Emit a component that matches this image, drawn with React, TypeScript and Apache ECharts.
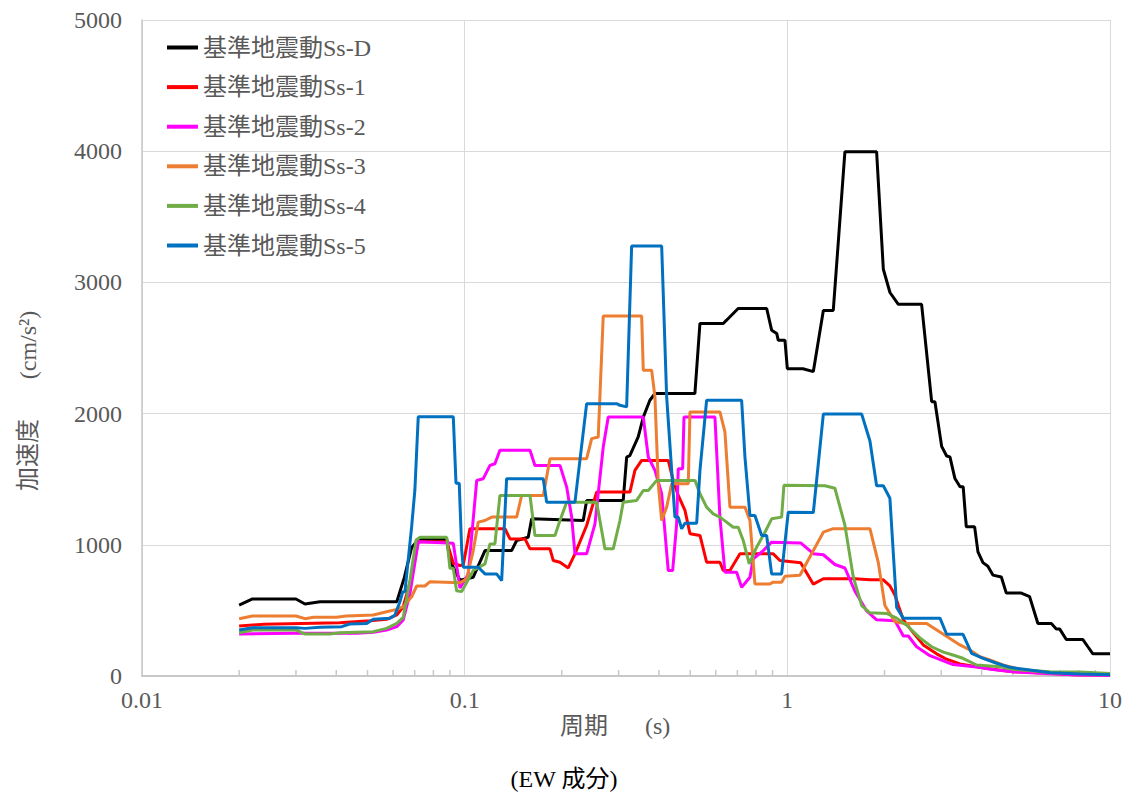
import React, { useEffect, useRef } from "react";
import * as echarts from "echarts";

const seriesNames = [
  "基準地震動Ss-D",
  "基準地震動Ss-1",
  "基準地震動Ss-2",
  "基準地震動Ss-3",
  "基準地震動Ss-4",
  "基準地震動Ss-5",
];
const seriesColors = ["#000000", "#FF0000", "#FF00FF", "#ED7D31", "#70AD47", "#0070C0"];

const yTicks = [0, 1000, 2000, 3000, 4000, 5000];
const minorTickPeriods = [
  0.02, 0.03, 0.04, 0.05, 0.06, 0.07, 0.08, 0.09,
  0.2, 0.3, 0.4, 0.5, 0.6, 0.7, 0.8, 0.9,
  2, 3, 4, 5, 6, 7, 8, 9,
];

// [period (s), acceleration (cm/s2)]
const ssD: [number, number][] = [
  [0.02, 540], [0.022, 587], [0.03, 587], [0.032, 549], [0.0356, 566], [0.0616, 566], [0.065, 750],
  [0.0685, 980], [0.072, 1040], [0.088, 1040], [0.09, 880], [0.0967, 730], [0.1063, 753], [0.1156, 956],
  [0.1398, 956], [0.1449, 1033], [0.1574, 1058], [0.1613, 1198], [0.2331, 1185], [0.2388, 1338],
  [0.31, 1338], [0.3177, 1669], [0.325, 1680], [0.345, 1822], [0.358, 1975], [0.375, 2102], [0.389, 2153],
  [0.517, 2153], [0.536, 2687], [0.633, 2687], [0.648, 2712], [0.704, 2801], [0.863, 2801], [0.894, 2636],
  [0.927, 2611], [0.937, 2560], [0.983, 2560], [1.0, 2342], [1.118, 2342], [1.204, 2320], [1.293, 2786],
  [1.388, 2786], [1.508, 3995], [1.891, 3995], [1.984, 3100], [2.08, 2923], [2.208, 2833], [2.607, 2833],
  [2.801, 2091], [2.867, 2091], [3.008, 1750], [3.117, 1677], [3.191, 1670], [3.307, 1505], [3.43, 1442],
  [3.508, 1442], [3.586, 1137], [3.806, 1137], [3.897, 946], [4.039, 864], [4.183, 837], [4.336, 769],
  [4.605, 755], [4.771, 632], [5.311, 632], [5.634, 605], [5.978, 400], [6.579, 400], [6.817, 359],
  [6.979, 359], [7.32, 278], [8.241, 278], [8.541, 223], [8.851, 169], [10, 169],
];

const ss1: [number, number][] = [
  [0.02, 381], [0.0238, 394], [0.041, 406], [0.0509, 422], [0.0573, 432], [0.0616, 465], [0.0645, 528],
  [0.0685, 757], [0.0718, 1024], [0.088, 1024], [0.0922, 859], [0.0967, 842], [0.099, 846], [0.1038, 1122],
  [0.1333, 1122], [0.1382, 1045], [0.1538, 1045], [0.1594, 969], [0.1838, 969], [0.1882, 880],
  [0.1974, 867], [0.2094, 824], [0.2197, 931], [0.2388, 1147], [0.2564, 1402], [0.3252, 1402],
  [0.337, 1567], [0.3536, 1643], [0.4275, 1643], [0.443, 1491], [0.4591, 1376], [0.4817, 1262],
  [0.4992, 1084], [0.5361, 1071], [0.5622, 867], [0.6181, 867], [0.6329, 804], [0.6639, 804],
  [0.713, 931], [0.9044, 931], [0.9486, 880], [1.1, 864], [1.204, 700], [1.293, 741], [1.62, 741],
  [1.803, 733], [1.984, 733], [2.079, 687], [2.155, 618], [2.208, 537], [2.288, 428], [2.428, 346],
  [2.638, 237], [2.902, 169], [3.117, 128], [3.427, 92], [3.86, 71], [4.339, 51], [5.0, 33], [6.5, 20],
  [7.674, 10], [10, 8],
];

const ss2: [number, number][] = [
  [0.02, 320], [0.0298, 325], [0.0463, 325], [0.0521, 333], [0.0573, 351], [0.0616, 376], [0.0645, 427],
  [0.0677, 630], [0.0718, 1024], [0.0922, 1011], [0.0967, 670], [0.1026, 778], [0.109, 1491],
  [0.1142, 1504], [0.1198, 1605], [0.1241, 1618], [0.1286, 1720], [0.1594, 1720], [0.1651, 1605],
  [0.1974, 1605], [0.2071, 1440], [0.2146, 1211], [0.2197, 931], [0.2388, 931], [0.2534, 1160],
  [0.2688, 1745], [0.2786, 1974], [0.3577, 1974], [0.3707, 1669], [0.3888, 1567], [0.4079, 1389],
  [0.4275, 804], [0.4412, 804], [0.4539, 1160], [0.4591, 1580], [0.4738, 1580], [0.4783, 1974],
  [0.5965, 1974], [0.6181, 1211], [0.6406, 791], [0.6964, 791], [0.7217, 676], [0.7658, 753],
  [0.784, 893], [0.842, 956], [0.8941, 1020], [1.1, 1014], [1.204, 932], [1.293, 924], [1.404, 850],
  [1.508, 823], [1.62, 646], [1.762, 496], [1.891, 428], [2.155, 422], [2.288, 305], [2.371, 305],
  [2.516, 223], [2.767, 155], [3.263, 87], [3.86, 68], [4.339, 50], [5.0, 32], [6.5, 18], [8, 8], [10, 5],
];

const ss3: [number, number][] = [
  [0.02, 437], [0.022, 457], [0.03, 457], [0.032, 437], [0.034, 447], [0.04, 447], [0.043, 457],
  [0.0521, 465], [0.0573, 490], [0.0616, 508], [0.0645, 528], [0.0685, 604], [0.071, 686], [0.0753, 686],
  [0.0781, 719], [0.0967, 710], [0.1014, 740], [0.1063, 956], [0.1102, 1173], [0.1156, 1185],
  [0.1213, 1211], [0.1449, 1211], [0.1502, 1376], [0.1752, 1376], [0.1838, 1656], [0.2388, 1656],
  [0.2475, 1809], [0.2594, 1822], [0.2688, 2743], [0.3536, 2743], [0.3577, 2331], [0.3797, 2331],
  [0.3888, 2127], [0.3981, 1465], [0.4079, 1185], [0.4227, 1287], [0.438, 1465], [0.4932, 1465],
  [0.4992, 2013], [0.6181, 2013], [0.6406, 1860], [0.6639, 1287], [0.739, 1287], [0.7658, 1185],
  [0.7936, 702], [0.8834, 702], [0.9044, 715], [0.9601, 715], [0.9831, 760], [1.094, 768],
  [1.189, 932], [1.293, 1096], [1.388, 1123], [1.803, 1123], [1.914, 864], [2.006, 537], [2.155, 414],
  [2.314, 400], [2.702, 400], [3.045, 318], [3.427, 237], [3.68, 198], [3.953, 147], [4.244, 122],
  [4.657, 84], [5.372, 46], [6.514, 25], [8.664, 20], [10, 15],
];

const ss4: [number, number][] = [
  [0.02, 330], [0.022, 351], [0.03, 351], [0.032, 320], [0.0382, 320], [0.041, 330], [0.0521, 338],
  [0.0573, 363], [0.0616, 401], [0.0645, 447], [0.0677, 732], [0.0707, 1037], [0.0727, 1057],
  [0.088, 1057], [0.09, 821], [0.0922, 821], [0.0944, 650], [0.0979, 643], [0.1063, 804], [0.1156, 855],
  [0.1198, 1007], [0.1241, 1007], [0.1286, 1376], [0.1594, 1376], [0.1651, 1071], [0.1905, 1071],
  [0.1974, 1185], [0.2071, 1325], [0.2564, 1325], [0.2721, 969], [0.2887, 969], [0.3028, 1185],
  [0.31, 1325], [0.3412, 1338], [0.3577, 1414], [0.3707, 1414], [0.3936, 1491], [0.5173, 1491],
  [0.5361, 1389], [0.5622, 1287], [0.5894, 1236], [0.6181, 1211], [0.6484, 1173], [0.6798, 1134],
  [0.7044, 1134], [0.7299, 1033], [0.762, 855], [0.8032, 982], [0.8523, 1096], [0.8941, 1198],
  [0.9601, 1211], [0.976, 1453], [1.308, 1450], [1.404, 1431], [1.508, 1150], [1.601, 755], [1.7, 537],
  [1.803, 482], [2.031, 477], [2.182, 441], [2.343, 387], [2.576, 291], [2.801, 223], [3.045, 182],
  [3.26, 160], [3.5, 135], [3.86, 84], [4.559, 71], [5.0, 51], [6.514, 33], [8.067, 30], [10, 20],
];

const ss5: [number, number][] = [
  [0.02, 351], [0.022, 368], [0.03, 368], [0.032, 363], [0.0356, 371], [0.0416, 376], [0.044, 396],
  [0.0497, 401], [0.0521, 432], [0.0587, 440], [0.0608, 465], [0.063, 566], [0.0643, 643], [0.0653, 643],
  [0.0685, 1138], [0.0701, 1418], [0.0718, 1976], [0.0922, 1976], [0.094, 1469], [0.0962, 1469],
  [0.0979, 960], [0.099, 829], [0.1102, 829], [0.1156, 778], [0.1256, 778], [0.1302, 727], [0.1349, 1504],
  [0.1752, 1504], [0.1795, 1325], [0.2197, 1325], [0.2388, 2076], [0.2958, 2076], [0.3028, 2063],
  [0.3177, 2051], [0.3292, 3277], [0.4079, 3277], [0.4227, 2127], [0.438, 1567], [0.4484, 1211],
  [0.4591, 1211], [0.4704, 1122], [0.4817, 1165], [0.5236, 1165], [0.5361, 1567], [0.5622, 2102],
  [0.7217, 2102], [0.739, 1669], [0.7658, 1224], [0.7936, 1224], [0.8324, 1071], [0.8627, 1071],
  [0.8941, 778], [0.9601, 778], [1.0065, 1249], [1.204, 1246], [1.293, 1996], [1.7, 1996], [1.803, 1791],
  [1.891, 1450], [1.984, 1450], [2.079, 1355], [2.182, 523], [2.288, 441], [2.972, 441], [3.117, 318],
  [3.503, 318], [3.725, 173], [4.042, 135], [4.453, 97], [4.895, 66], [5.646, 46], [6.514, 25],
  [8.067, 15], [10, 10],
];

const seriesData = [ssD, ss1, ss2, ss3, ss4, ss5];

const FONT = "'Liberation Serif', 'Noto Sans CJK JP', serif";
const TEXT = "#595959";

export default function App() {
  const ref = useRef<HTMLDivElement>(null);
  useEffect(() => {
    if (!ref.current) return;
    const chart = echarts.init(ref.current, undefined, { renderer: "svg" });
    const lineSeries = seriesNames.map((name, i) => ({
      name,
      type: "line",
      data: seriesData[i],
      showSymbol: false,
      symbol: "none",
      lineStyle: { color: seriesColors[i], width: 3 },
      itemStyle: { color: seriesColors[i] },
      z: 3,
    }));
    chart.setOption({
      animation: false,
      backgroundColor: "#ffffff",
      textStyle: { fontFamily: FONT },
      grid: { left: 142, right: 22, top: 20, bottom: 117, containLabel: false },
      legend: {
        data: seriesNames,
        orient: "vertical",
        left: 167,
        top: 35,
        padding: 0,
        icon: "rect",
        itemWidth: 31,
        itemHeight: 4,
        itemGap: 14.6,
        textStyle: { color: TEXT, fontSize: 24, fontFamily: FONT, lineHeight: 25 },
      },
      xAxis: {
        type: "log",
        logBase: 10,
        min: 0.01,
        max: 10,
        axisLine: { show: true, lineStyle: { color: "#c8c8c8", width: 2 } },
        axisTick: { show: false },
        axisLabel: {
          color: TEXT,
          fontSize: 24,
          fontFamily: FONT,
          margin: 12,
          formatter: (v: number) => String(+Number(v).toPrecision(3)),
        },
        splitLine: { show: true, lineStyle: { color: "#d9d9d9", width: 1 } },
      },
      yAxis: {
        type: "value",
        min: yTicks[0],
        max: yTicks[yTicks.length - 1],
        interval: yTicks[1] - yTicks[0],
        axisLine: { show: true, lineStyle: { color: "#c8c8c8", width: 1.5 } },
        axisTick: { show: false },
        axisLabel: {
          color: TEXT,
          fontSize: 24,
          fontFamily: FONT,
          margin: 20,
          formatter: (v: number) => String(v),
        },
        splitLine: { show: true, lineStyle: { color: "#d9d9d9", width: 1 } },
      },
      graphic: [
        {
          type: "text",
          x: 28,
          y: 455,
          rotation: Math.PI / 2,
          style: { text: "加速度", fill: TEXT, font: `24px ${FONT}`, textAlign: "center", textVerticalAlign: "middle" },
        },
        {
          type: "text",
          x: 28,
          y: 345,
          rotation: Math.PI / 2,
          style: { text: "(cm/s²)", fill: TEXT, font: `24px ${FONT}`, textAlign: "center", textVerticalAlign: "middle" },
        },
        {
          type: "text",
          x: 560,
          y: 726,
          style: { text: "周期", fill: TEXT, font: `24px ${FONT}`, textAlign: "left", textVerticalAlign: "middle" },
        },
        {
          type: "text",
          x: 645,
          y: 726,
          style: { text: "(s)", fill: TEXT, font: `24px ${FONT}`, textAlign: "left", textVerticalAlign: "middle" },
        },
        {
          type: "text",
          x: 564,
          y: 779,
          style: { text: "(EW 成分)", fill: "#000000", font: `24px ${FONT}`, textAlign: "center", textVerticalAlign: "middle" },
        },
      ],
      series: [
        ...lineSeries,
        {
          type: "custom",
          name: "minorTicks",
          silent: true,
          clip: false,
          z: 2,
          data: minorTickPeriods.map((p) => [p, 0]),
          encode: { x: 0, y: 1 },
          renderItem: (params: any, api: any) => {
            const p = api.coord([api.value(0), 0]);
            return {
              type: "line",
              shape: { x1: p[0], y1: p[1], x2: p[0], y2: p[1] - 6 },
              style: { stroke: "#c8c8c8", lineWidth: 1.5 },
            };
          },
        },
      ],
    });
    return () => chart.dispose();
  }, []);
  return <div ref={ref} style={{ width: 1132, height: 793, position: "absolute", left: 0, top: 0 }} />;
}
